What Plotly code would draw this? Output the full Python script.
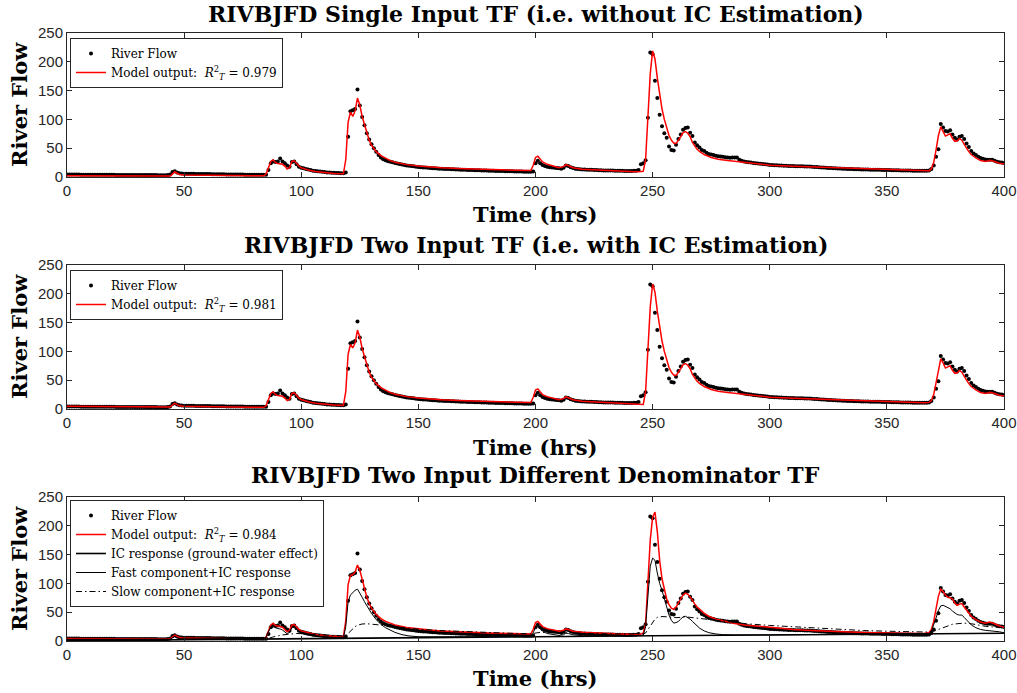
import plotly.graph_objects as go

# ---------------- data ----------------
river_flow = [
    4.5, 4.4, 4.3, 4.3, 4.2, 4.2, 4.1, 4.1, 4.0, 4.0,
    4.0, 3.9, 3.9, 3.9, 3.8, 3.8, 3.8, 3.7, 3.7, 3.7,
    3.7, 3.6, 3.6, 3.6, 3.6, 3.5, 3.5, 3.5, 3.5, 3.4,
    3.4, 3.4, 3.4, 3.4, 3.3, 3.3, 3.3, 3.3, 3.3, 3.2,
    3.2, 3.2, 3.2, 3.3, 4.5, 8.5, 10.0, 8.0, 6.5, 6.0,
    5.8, 5.7, 5.6, 5.5, 5.5, 5.4, 5.3, 5.3, 5.2, 5.1,
    5.0, 5.0, 4.9, 4.8, 4.8, 4.7, 4.7, 4.6, 4.5, 4.5,
    4.4, 4.4, 4.3, 4.3, 4.2, 4.2, 4.1, 4.1, 4.0, 4.0,
    3.9, 3.9, 3.9, 3.8, 3.8, 4.0, 12.0, 24.0, 27.0, 26.0,
    27.0, 32.0, 27.0, 24.0, 20.0, 18.0, 26.0, 27.0, 22.0, 18.0,
    16.0, 15.0, 14.0, 13.0, 12.0, 11.0, 10.5, 10.0, 9.5, 9.0,
    8.5, 8.0, 7.8, 7.5, 7.2, 7.0, 6.8, 6.6, 6.5, 8.0,
    70.0, 114.0, 116.0, 118.0, 152.0, 124.0, 104.0, 90.0, 76.0, 65.0,
    57.0, 50.0, 44.0, 38.0, 34.0, 31.0, 29.0, 27.5, 26.5, 25.5,
    24.5, 23.5, 22.5, 21.5, 21.0, 20.0, 19.5, 19.0, 18.5, 18.0,
    17.5, 17.0, 16.7, 16.4, 16.0, 15.7, 15.4, 15.1, 14.8, 14.5,
    14.3, 14.1, 13.9, 13.7, 13.5, 13.3, 13.1, 13.0, 12.8, 12.6,
    12.5, 12.3, 12.2, 12.0, 11.9, 11.7, 11.6, 11.4, 11.3, 11.1,
    11.0, 10.9, 10.7, 10.6, 10.5, 10.3, 10.2, 10.1, 10.0, 9.9,
    9.8, 9.7, 9.6, 9.5, 9.4, 9.3, 9.2, 9.1, 9.0, 9.5,
    24.0, 28.0, 24.0, 21.0, 19.0, 18.0, 17.0, 16.5, 16.0, 15.5,
    15.0, 14.5, 16.0, 20.0, 19.0, 17.0, 15.5, 14.5, 14.0, 13.5,
    13.2, 13.0, 12.8, 12.6, 12.4, 12.2, 12.0, 11.8, 11.6, 11.5,
    11.4, 11.3, 11.2, 11.1, 11.0, 10.9, 10.8, 10.7, 10.6, 10.6,
    10.5, 10.5, 10.8, 11.0, 12.0, 22.0, 24.0, 29.0, 103.0, 216.0,
    213.0, 167.0, 137.0, 108.0, 88.0, 76.0, 68.0, 53.0, 47.0, 46.0,
    56.0, 66.0, 74.0, 82.0, 85.0, 86.0, 77.0, 71.0, 60.0, 55.0,
    51.0, 47.0, 45.0, 42.0, 40.0, 39.0, 38.0, 37.0, 36.0, 35.5,
    35.0, 34.5, 34.0, 33.5, 34.0, 34.0, 34.0, 30.0, 28.0, 27.0,
    26.0, 25.5, 25.0, 24.5, 24.0, 23.5, 23.0, 22.5, 22.0, 21.5,
    21.0, 20.7, 20.4, 20.2, 20.0, 19.8, 19.6, 19.4, 19.2, 19.0,
    18.9, 18.8, 18.7, 18.6, 18.5, 18.4, 18.3, 18.1, 17.8, 17.5,
    17.2, 16.9, 16.6, 16.3, 16.0, 15.7, 15.5, 15.3, 15.1, 14.9,
    14.7, 14.5, 14.3, 14.1, 13.9, 13.7, 13.5, 13.4, 13.3, 13.2,
    13.1, 13.0, 12.9, 12.8, 12.7, 12.6, 12.5, 12.4, 12.3, 12.2,
    12.1, 12.0, 11.9, 11.8, 11.7, 11.6, 11.5, 11.4, 11.3, 11.2,
    11.1, 11.0, 11.0, 10.9, 10.9, 10.8, 10.8, 10.9, 11.5, 14.0,
    20.0, 35.0, 48.0, 92.0, 86.0, 80.0, 79.0, 81.0, 74.0, 68.0,
    65.0, 70.0, 71.0, 66.0, 58.0, 52.0, 45.0, 41.0, 38.0, 35.0,
    33.0, 31.5, 30.5, 30.0, 30.0, 30.0, 28.0, 26.5, 25.5, 25.0,
    24.5,
]
hours = list(range(len(river_flow)))

# model output, panel 1 (single input TF) as (hour, value)
model_single = [
    (0, 2.0), (10, 1.8), (20, 1.7), (30, 1.6), (40, 1.5), (44, 1.6), (45, 5), (46, 9), (47, 6.5),
    (48, 4.5), (50, 3.5), (55, 3), (60, 2.7), (70, 2.4), (80, 2.2), (84, 2.2), (85, 5), (86, 15),
    (87, 27), (88, 30), (89, 25), (90, 23.5), (91, 23), (92, 22), (93, 19), (94, 14), (95, 16),
    (96, 27), (97, 28), (98, 23), (99, 19), (100, 16), (103, 12), (106, 9.5), (110, 7.5), (114, 6),
    (118, 5.5), (119, 30), (120, 95), (121, 113), (122, 105), (123, 115), (124, 137), (125, 125),
    (126, 105), (127, 90), (128, 76), (129, 64), (130, 55), (132, 44), (134, 37), (136, 32),
    (138, 28.5), (140, 25.5), (145, 21.5), (150, 19), (155, 17.5), (160, 16), (170, 14.5),
    (180, 13.2), (190, 12), (198, 11.2), (199, 20), (200, 34), (201, 36), (202, 30), (203, 26),
    (205, 22), (208, 18), (210, 16), (212, 18), (213, 21.5), (214, 20), (216, 16), (220, 13.5),
    (230, 11), (240, 9.5), (244, 9), (245, 9), (246, 10), (247, 30), (248, 103), (249, 180),
    (250, 219), (251, 205), (252, 172), (253, 140), (254, 118), (255, 100), (256, 85), (257, 72),
    (258, 64), (259, 59), (260, 58), (261, 63), (262, 70), (263, 77), (264, 79), (265, 76),
    (266, 70), (267, 60), (268, 53), (269, 48), (270, 44.5), (272, 39), (275, 34), (278, 31),
    (282, 28.5), (286, 26.5), (290, 24.5), (300, 20.5), (310, 18.5), (320, 17), (330, 15.7),
    (340, 14.8), (350, 13.7), (360, 12), (366, 10.5), (368, 11), (369, 14), (370, 25), (371, 47),
    (372, 72), (373, 87), (374, 80), (375, 71), (376, 73), (377, 75), (378, 67), (379, 62),
    (380, 63), (381, 67), (382, 64), (383, 56), (384, 50), (385, 44), (386, 39), (388, 33),
    (390, 28.5), (392, 27), (394, 29), (396, 27), (398, 24), (400, 22.5),
]

# model output, panel 2 (two input TF, with IC estimation)
model_two = [
    (0, 4.6), (10, 4.3), (20, 4.0), (30, 3.8), (40, 3.6), (44, 3.6), (45, 7), (46, 10), (47, 7.5),
    (48, 5.5), (50, 4.8), (55, 4.2), (60, 3.8), (70, 3.3), (80, 3.0), (84, 3.0), (85, 5.5), (86, 15),
    (87, 27), (88, 30), (89, 25), (90, 23.5), (91, 23), (92, 22), (93, 19), (94, 14.5), (95, 16.5),
    (96, 27), (97, 28), (98, 23), (99, 19), (100, 16.5), (103, 12.5), (106, 10), (110, 8), (114, 6.8),
    (118, 6.2), (119, 30), (120, 95), (121, 112), (122, 106), (123, 115), (124, 137), (125, 125),
    (126, 105), (127, 90), (128, 76), (129, 64), (130, 55), (132, 44), (134, 37), (136, 32),
    (138, 28.5), (140, 25.5), (145, 21.5), (150, 19), (155, 17.5), (160, 16), (170, 14.5),
    (180, 13.2), (190, 12), (198, 11.2), (199, 20), (200, 33), (201, 35), (202, 29), (203, 25),
    (205, 21.5), (208, 18), (210, 16), (212, 18), (213, 21), (214, 19.5), (216, 16), (220, 13.5),
    (230, 11), (240, 9), (244, 8), (245, 8), (246, 8), (247, 30), (248, 100), (249, 178),
    (250, 217), (251, 203), (252, 170), (253, 140), (254, 118), (255, 100), (256, 85), (257, 72),
    (258, 64), (259, 59), (260, 58), (261, 63), (262, 70), (263, 77), (264, 79), (265, 76),
    (266, 70), (267, 60), (268, 53), (269, 48), (270, 44.5), (272, 39), (275, 34), (278, 31),
    (282, 28.5), (286, 26.5), (290, 24.5), (300, 20.5), (310, 18.5), (320, 17), (330, 15.7),
    (340, 14.8), (350, 13.7), (360, 12.2), (366, 11), (368, 11.5), (369, 14.5), (370, 25),
    (371, 47), (372, 72), (373, 87), (374, 80), (375, 71), (376, 73), (377, 75), (378, 67),
    (379, 62), (380, 63), (381, 67), (382, 64), (383, 56), (384, 50), (385, 44), (386, 39),
    (388, 33), (390, 28.5), (392, 27), (394, 29), (396, 27), (398, 24), (400, 22.5),
]

# model output, panel 3 (two input, different denominator TF)
model_diff = [
    (0, 4.5), (10, 4.2), (20, 4.0), (30, 3.8), (40, 3.6), (44, 3.6), (45, 7), (46, 10), (47, 8),
    (48, 6), (50, 5), (55, 4.5), (60, 4.2), (70, 3.9), (80, 3.6), (84, 3.6), (85, 7), (86, 18),
    (87, 28), (88, 31), (89, 27), (90, 26), (91, 25.5), (92, 24), (93, 20), (94, 16), (95, 19),
    (96, 28), (97, 28.5), (98, 24), (99, 20), (100, 17.5), (103, 14), (106, 11.5), (110, 9.5),
    (114, 8.3), (118, 7.5), (119, 35), (120, 98), (121, 114), (122, 115), (123, 120), (124, 132),
    (125, 123), (126, 106), (127, 90), (128, 76), (129, 65), (130, 57), (132, 46), (134, 39),
    (136, 34), (138, 30.5), (140, 28), (145, 23.5), (150, 21), (155, 19), (160, 17.5), (170, 15.5),
    (180, 14), (190, 13), (198, 12.2), (199, 20), (200, 32), (201, 34), (202, 29), (203, 25),
    (205, 21.5), (208, 18.5), (210, 17), (212, 18.5), (213, 21), (214, 20), (216, 17), (220, 15),
    (230, 13), (240, 11.5), (244, 11), (245, 12), (246, 14), (247, 30), (248, 100), (249, 176),
    (250, 215), (251, 224), (252, 190), (253, 140), (254, 108), (255, 88), (256, 73), (257, 63),
    (258, 57), (259, 55), (260, 59), (261, 66), (262, 74), (263, 80), (264, 83), (265, 81),
    (266, 77), (267, 70), (268, 64), (269, 59), (270, 55), (272, 48), (274, 43), (277, 38),
    (280, 35), (285, 30.5), (290, 27.5), (300, 23.5), (310, 20), (320, 17.8), (330, 16),
    (340, 14.8), (350, 13.8), (360, 13), (366, 13), (368, 15), (369, 20), (370, 34), (371, 55),
    (372, 78), (373, 90), (374, 86), (375, 80), (376, 76), (377, 75), (378, 73), (379, 66),
    (380, 62), (381, 64), (382, 65), (383, 59), (384, 54), (385, 48), (386, 43), (388, 37),
    (390, 33), (392, 31), (394, 33), (396, 30), (398, 26), (400, 24),
]

# IC response (ground-water effect)
ic_response = [
    (0, 0.5), (50, 2.5), (100, 4.5), (150, 6.3), (200, 7.8), (250, 9.2), (300, 10.5),
    (350, 12.0), (400, 13.5),
]

# Fast component + IC response
fast_ic = [
    (0, 3), (20, 2.9), (40, 3.0), (44, 3.1), (45, 5.5), (46, 7.5), (47, 5.5), (48, 4.2), (50, 3.6),
    (60, 3.6), (80, 4.2), (84, 4.3), (85, 7), (86, 16), (87, 25), (88, 27), (89, 23), (90, 21.5),
    (91, 21), (92, 19), (93, 15.5), (94, 12.5), (95, 15), (96, 23), (97, 24), (98, 20), (99, 16),
    (100, 13), (103, 10), (106, 8.2), (110, 6.8), (114, 6), (118, 5.6), (119, 25), (120, 68),
    (121, 80), (122, 84), (123, 88), (124, 90), (125, 84), (126, 76), (127, 68), (128, 61),
    (129, 54), (130, 48), (132, 37), (134, 29), (136, 23), (138, 18.5), (140, 15), (143, 11),
    (146, 8.8), (150, 7.4), (160, 7.0), (170, 7.3), (180, 7.6), (190, 7.9), (198, 8.1), (199, 14),
    (200, 24), (201, 26), (202, 21), (203, 17), (205, 13), (208, 10.5), (210, 9.6), (212, 11),
    (213, 14), (214, 13), (216, 10.8), (220, 9.2), (230, 9.0), (240, 9.2), (246, 9.4), (247, 25),
    (248, 80), (249, 130), (250, 144), (251, 140), (252, 118), (253, 100), (254, 88), (255, 72),
    (256, 58), (257, 45), (258, 36), (259, 31), (260, 32), (261, 34), (262, 38), (263, 42),
    (264, 43), (265, 41), (266, 38), (267, 34), (268, 30), (269, 26), (270, 22.5), (272, 17.5),
    (274, 14.5), (277, 12.2), (280, 11), (285, 10.6), (290, 10.5), (300, 10.7), (320, 11.3),
    (340, 11.8), (360, 12.3), (366, 12.6), (368, 13), (369, 17), (370, 27), (371, 40), (372, 53),
    (373, 61), (374, 62), (375, 60), (376, 58), (377, 56), (378, 52), (379, 49), (380, 46),
    (381, 45), (382, 45), (383, 41), (384, 36), (385, 32), (386, 28), (388, 23), (390, 20),
    (392, 18.5), (394, 18), (396, 17.5), (398, 16), (400, 14.3),
]

# Slow component + IC response
slow_ic = [
    (0, 1.5), (20, 1.4), (40, 1.5), (44, 1.6), (46, 2.2), (48, 2.4), (50, 2.5), (60, 2.8),
    (80, 3.6), (85, 3.8), (86, 4.5), (88, 7), (90, 9), (92, 10.5), (94, 11.5), (96, 12.5),
    (98, 13), (100, 12.8), (105, 11.5), (110, 10), (115, 9), (118, 8.5), (119, 9), (120, 13),
    (121, 18), (122, 22), (123, 25), (124, 27.5), (126, 29.5), (128, 30), (130, 29.5), (133, 28),
    (136, 26.5), (140, 24.5), (145, 22.5), (150, 20.5), (160, 18), (170, 16), (180, 14.5),
    (190, 13.3), (198, 12.5), (200, 14), (202, 15), (205, 14.5), (210, 13.8), (213, 14.2),
    (216, 14), (220, 13.5), (230, 12.5), (240, 11.8), (246, 12), (247, 14), (248, 20), (249, 27),
    (250, 33), (251, 38), (252, 41), (254, 42.5), (256, 42), (258, 41), (260, 40.5), (262, 41),
    (264, 42), (266, 41), (268, 40), (272, 38), (276, 36), (282, 33), (290, 30), (300, 27),
    (310, 24.5), (320, 22), (330, 20), (340, 18.2), (350, 17), (360, 15.8), (366, 15.3),
    (368, 15.5), (370, 17), (372, 20), (374, 24), (376, 27), (378, 29), (380, 30), (383, 31),
    (386, 30), (389, 27.5), (392, 25.5), (395, 24.5), (398, 23.5), (400, 23),
]

titles = [
    "RIVBJFD Single Input TF (i.e. without IC Estimation)",
    "RIVBJFD Two Input TF (i.e. with IC Estimation)",
    "RIVBJFD Two Input Different Denominator TF",
]
r2_values = ["0.979", "0.981", "0.984"]
x_ticks = [0, 50, 100, 150, 200, 250, 300, 350, 400]
y_ticks = [0, 50, 100, 150, 200, 250]

# ---------------- figure ----------------
LEG_SERIF = "DejaVu Serif"
BOLD_SERIF = "DejaVu Serif"
SANS = "Liberation Sans"
AX = "#262626"


def xy(pairs):
    return [p[0] for p in pairs], [p[1] for p in pairs]


fig = go.Figure()
models = [model_single, model_two, model_diff]
for i in range(3):
    n = "" if i == 0 else str(i + 1)
    leg = "legend" if i == 0 else "legend" + str(i + 1)
    fig.add_trace(go.Scatter(
        x=hours, y=river_flow, mode="markers", name="River Flow",
        marker=dict(color="black", size=4), xaxis="x" + n, yaxis="y" + n, legend=leg))
    mx, my = xy(models[i])
    fig.add_trace(go.Scatter(
        x=mx, y=my, mode="lines",
        name="Model output:  <i>R</i><sup>2</sup><sub><i>T</i></sub> = " + r2_values[i],
        line=dict(color="#ff0000", width=1.5), xaxis="x" + n, yaxis="y" + n, legend=leg))

ix, iy = xy(ic_response)
fig.add_trace(go.Scatter(x=ix, y=iy, mode="lines", name="IC response (ground-water effect)",
                         line=dict(color="black", width=1.6), xaxis="x3", yaxis="y3", legend="legend3"))
fx, fy = xy(fast_ic)
fig.add_trace(go.Scatter(x=fx, y=fy, mode="lines", name="Fast component+IC response",
                         line=dict(color="black", width=1), xaxis="x3", yaxis="y3", legend="legend3"))
sx, sy = xy(slow_ic)
fig.add_trace(go.Scatter(x=sx, y=sy, mode="lines", name="Slow component+IC response",
                         line=dict(color="black", width=1, dash="6px,3px,1.5px,3px"),
                         xaxis="x3", yaxis="y3", legend="legend3"))

PH = 608.0  # plotting height in px
BOTTOM = 641.0
R_MARGIN = 13
PW = 1017 - 67 - R_MARGIN


def py(pix):
    return (BOTTOM - pix) / PH


domains = [[py(177), py(33)], [py(409), py(265)], [py(641), py(497)]]

axis_common = dict(showline=True, mirror="ticks", ticks="inside", ticklen=5, tickwidth=1,
                   linecolor=AX, linewidth=1, tickcolor=AX, showgrid=False, zeroline=False,
                   automargin=False, ticklabeloverflow="allow",
                   tickfont=dict(family=SANS, size=15, color=AX))
layout = dict(
    width=1017, height=693, autosize=False, plot_bgcolor="white", paper_bgcolor="white",
    margin=dict(l=67, r=R_MARGIN, t=33, b=52),
)
for i in range(3):
    n = "" if i == 0 else str(i + 1)
    layout["xaxis" + n] = dict(axis_common, range=[0, 400], tickvals=x_ticks,
                               anchor="y" + n, domain=[0, 1])
    layout["yaxis" + n] = dict(axis_common, range=[0, 250], tickvals=y_ticks,
                               anchor="x" + n, domain=domains[i])

leg_common = dict(bgcolor="white", bordercolor=AX, borderwidth=1, xanchor="left", yanchor="top",
                  font=dict(family=LEG_SERIF, size=12, color="black"), itemwidth=30,
                  tracegroupgap=0)
layout["legend"] = dict(leg_common, x=3.0 / PW, y=py(38))
layout["legend2"] = dict(leg_common, x=3.0 / PW, y=py(270))
layout["legend3"] = dict(leg_common, x=3.0 / PW, y=py(500))

anns = []
title_y = [14, 245, 475]
time_y = [214, 447, 678]
for i in range(3):
    anns.append(dict(text="<b>" + titles[i] + "</b>", xref="paper", yref="paper", x=0.5,
                     y=py(title_y[i]), xanchor="center", yanchor="middle", showarrow=False,
                     font=dict(family=BOLD_SERIF, size=22, color="black")))
    anns.append(dict(text="<b>Time (hrs)</b>", xref="paper", yref="paper", x=0.5,
                     y=py(time_y[i]), xanchor="center", yanchor="middle", showarrow=False,
                     font=dict(family=BOLD_SERIF, size=21, color="black")))
    anns.append(dict(text="<b>River Flow</b>", xref="paper", yref="paper", x=(19 - 67) / PW,
                     y=(domains[i][0] + domains[i][1]) / 2, xanchor="center", yanchor="middle",
                     textangle=-90, showarrow=False,
                     font=dict(family=BOLD_SERIF, size=21, color="black")))
layout["annotations"] = anns
fig.update_layout(**layout)

fig.write_html("out.html", config={"responsive": False})
